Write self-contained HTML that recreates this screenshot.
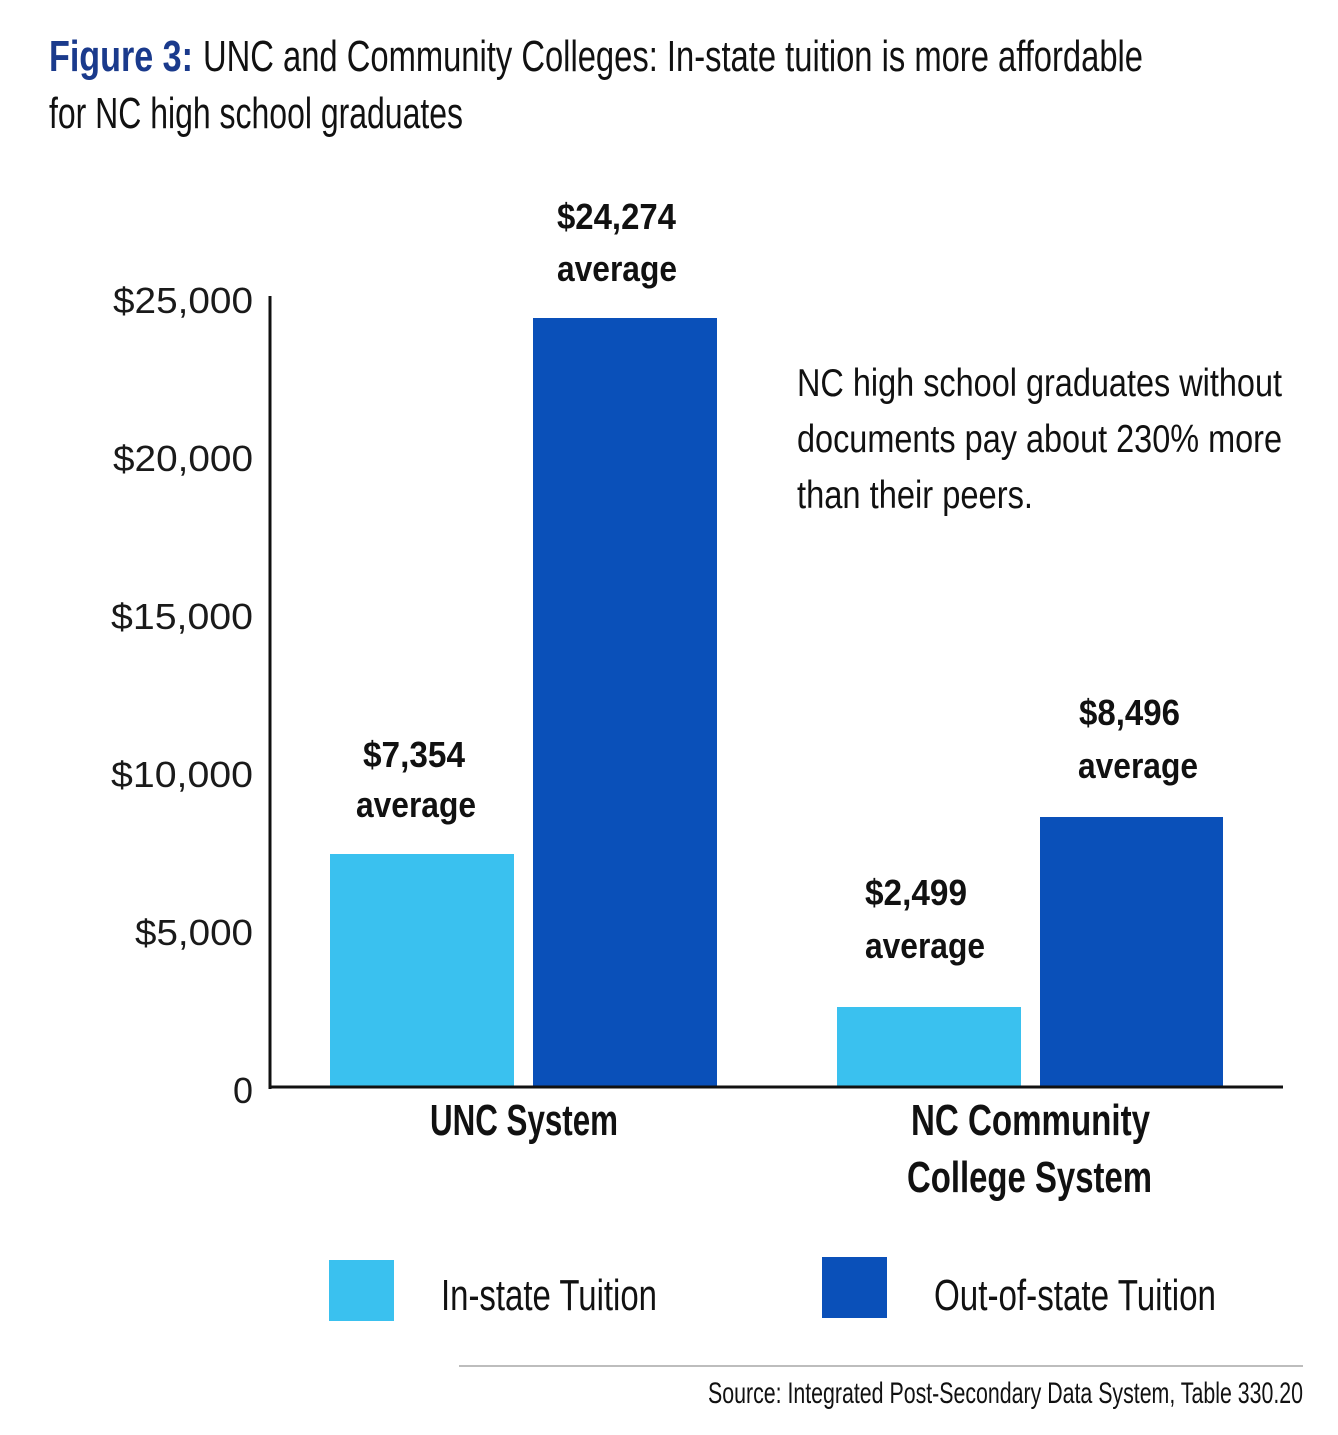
<!DOCTYPE html>
<html>
<head>
<meta charset="utf-8">
<style>
  html,body{margin:0;padding:0;background:#fff;}
  svg{display:block;}
  text{font-family:"Liberation Sans", sans-serif;}
</style>
</head>
<body>
<svg width="1338" height="1435" viewBox="0 0 1338 1435" xmlns="http://www.w3.org/2000/svg">
  <rect x="0" y="0" width="1338" height="1435" fill="#ffffff"/>

  <!-- Title -->
  <text x="49" y="71" font-size="44" font-weight="bold" fill="#1a3a8c" textLength="144" lengthAdjust="spacingAndGlyphs">Figure 3:</text>
  <text x="203" y="71" font-size="44" fill="#111" textLength="940" lengthAdjust="spacingAndGlyphs">UNC and Community Colleges: In-state tuition is more affordable</text>
  <text x="49" y="128" font-size="44" fill="#111" textLength="414" lengthAdjust="spacingAndGlyphs">for NC high school graduates</text>

  <!-- Y axis labels -->
  <g font-size="36" fill="#1a1a1a">
    <text x="113" y="313" textLength="140" lengthAdjust="spacingAndGlyphs">$25,000</text>
    <text x="113" y="471" textLength="140" lengthAdjust="spacingAndGlyphs">$20,000</text>
    <text x="111" y="629" textLength="142" lengthAdjust="spacingAndGlyphs">$15,000</text>
    <text x="111" y="787" textLength="142" lengthAdjust="spacingAndGlyphs">$10,000</text>
    <text x="135" y="945" textLength="118" lengthAdjust="spacingAndGlyphs">$5,000</text>
    <text x="233" y="1103" textLength="20" lengthAdjust="spacingAndGlyphs">0</text>
  </g>

  <!-- Bars -->
  <rect x="330" y="854" width="184" height="233" fill="#3ac1ef"/>
  <rect x="533" y="318" width="184" height="769" fill="#0a50b9"/>
  <rect x="837" y="1007" width="184" height="80" fill="#3ac1ef"/>
  <rect x="1040" y="817" width="183" height="270" fill="#0a50b9"/>

  <!-- Axes -->
  <rect x="268.5" y="296" width="3" height="793" fill="#111"/>
  <rect x="268.5" y="1085.5" width="1014.5" height="3" fill="#111"/>

  <!-- Value labels -->
  <g font-size="36" font-weight="bold" fill="#111">
    <text x="557" y="229" textLength="119" lengthAdjust="spacingAndGlyphs">$24,274</text>
    <text x="557" y="281" textLength="120" lengthAdjust="spacingAndGlyphs">average</text>
    <text x="363" y="767" textLength="102" lengthAdjust="spacingAndGlyphs">$7,354</text>
    <text x="356" y="817" textLength="120" lengthAdjust="spacingAndGlyphs">average</text>
    <text x="1079" y="725" textLength="101" lengthAdjust="spacingAndGlyphs">$8,496</text>
    <text x="1078" y="778" textLength="120" lengthAdjust="spacingAndGlyphs">average</text>
    <text x="865" y="905" textLength="102" lengthAdjust="spacingAndGlyphs">$2,499</text>
    <text x="865" y="958" textLength="120" lengthAdjust="spacingAndGlyphs">average</text>
  </g>

  <!-- Annotation -->
  <g font-size="39" fill="#111">
    <text x="797" y="396" textLength="485" lengthAdjust="spacingAndGlyphs">NC high school graduates without</text>
    <text x="797" y="452" textLength="485" lengthAdjust="spacingAndGlyphs">documents pay about 230% more</text>
    <text x="797" y="508" textLength="236" lengthAdjust="spacingAndGlyphs">than their peers.</text>
  </g>

  <!-- Category labels -->
  <g font-size="44" font-weight="bold" fill="#111">
    <text x="430" y="1135" textLength="188" lengthAdjust="spacingAndGlyphs">UNC System</text>
    <text x="911" y="1135" textLength="239" lengthAdjust="spacingAndGlyphs">NC Community</text>
    <text x="907" y="1192" textLength="245" lengthAdjust="spacingAndGlyphs">College System</text>
  </g>

  <!-- Legend -->
  <rect x="329" y="1260" width="65" height="61" fill="#3ac1ef"/>
  <rect x="822" y="1257" width="65" height="61" fill="#0a50b9"/>
  <g font-size="44" fill="#111">
    <text x="441" y="1310" textLength="216" lengthAdjust="spacingAndGlyphs">In-state Tuition</text>
    <text x="934" y="1310" textLength="282" lengthAdjust="spacingAndGlyphs">Out-of-state Tuition</text>
  </g>

  <!-- Source -->
  <rect x="459" y="1365" width="844" height="2" fill="#bdbdbd"/>
  <text x="708" y="1403" font-size="30" fill="#111" textLength="595" lengthAdjust="spacingAndGlyphs">Source: Integrated Post-Secondary Data System, Table 330.20</text>
</svg>
</body>
</html>
